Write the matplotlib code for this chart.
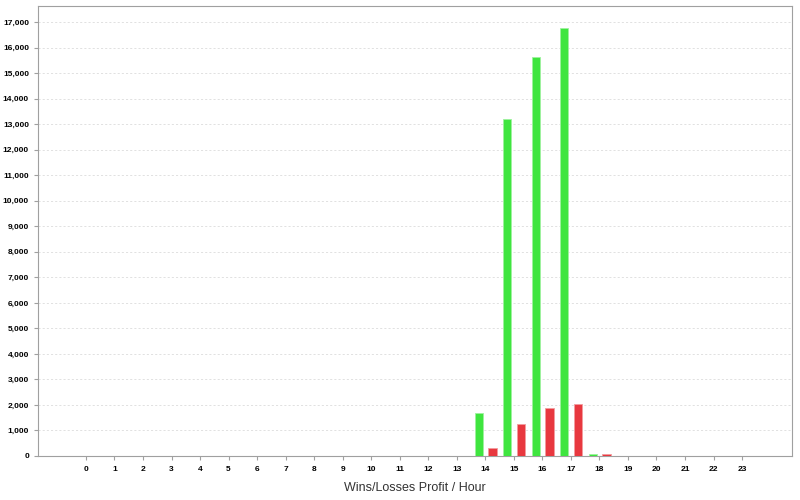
import numpy as np
import matplotlib
matplotlib.use("Agg")
import matplotlib.pyplot as plt
from matplotlib.ticker import FuncFormatter

hours = list(range(24))
wins = [0] * 14 + [1700, 13200, 15630, 16780, 80] + [0] * 5
losses = [0] * 14 + [300, 1250, 1870, 2040, 60] + [0] * 5

green = "#3fe53f"
red = "#e8383f"

fig = plt.figure(figsize=(8, 5), dpi=100)
ax = fig.add_axes([0.0475, 0.088, 0.9425, 0.9])

x = np.array(hours)
ax.bar(x - 0.23, wins, width=0.29, color=green, edgecolor="#9ff29f", linewidth=0.6, zorder=3)
ax.bar(x + 0.25, losses, width=0.29, color=red, edgecolor="#f29c9f", linewidth=0.6, zorder=3)

ax.set_xlim(-1.68, 24.75)
ax.set_ylim(0, 17630)
ax.set_xticks(hours)
ax.set_xticklabels([str(h) for h in hours])
ax.set_yticks(range(0, 17001, 1000))
ax.yaxis.set_major_formatter(FuncFormatter(lambda v, p: f"{int(v):,}"))

ax.grid(axis="y", color="#dcdcdc", linestyle=(0, (2.5, 2.5)), linewidth=0.6, zorder=0)
for s in ax.spines.values():
    s.set_color("#a0a0a0")
ax.tick_params(axis="both", labelsize=6, color="#a0a0a0", length=3, width=0.8)
ax.tick_params(axis="x", pad=4)
for lab in ax.get_xticklabels() + ax.get_yticklabels():
    lab.set_fontweight("bold")
    lab.set_family("Liberation Sans")

ax.set_xlabel("Wins/Losses Profit / Hour", fontsize=9, family="Liberation Sans", color="#333333", labelpad=7)

fig.savefig("out.png", dpi=100)
